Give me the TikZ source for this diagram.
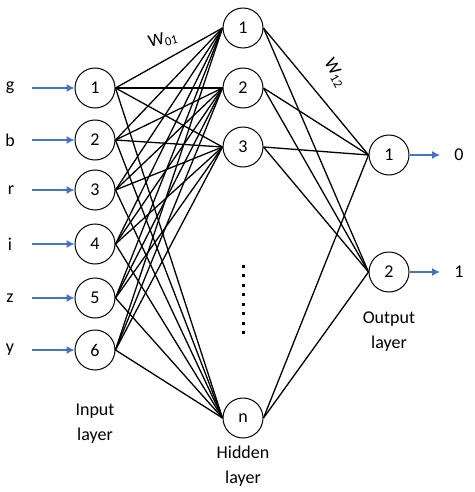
\documentclass[tikz,border=0pt]{standalone}
\usepackage{fontspec}
\setmainfont{Carlito}
\usepackage{xcolor}
\usepackage{tikz}
\usetikzlibrary{arrows.meta}
\definecolor{arrowblue}{HTML}{4472C4}

\begin{document}
\begin{tikzpicture}[x=1pt,y=-1pt,auto,
  font=\fontsize{18}{25}\selectfont,
  main node/.style={circle,draw,line width=1pt,inner sep=1pt,minimum size=40pt},
  in arrow/.style={draw=arrowblue,line width=1.3pt,-{Latex[length=8pt,width=8pt]}},
  wire/.style={line width=1.3pt}]
        \useasboundingbox (0,0) rectangle (474,492);
        % input layer
        \node[main node] (i1) at (95,88)  {1};
        \node[main node] (i2) at (95,140) {2};
        \node[main node] (i3) at (95,190) {3};
        \node[main node] (i4) at (95,244) {4};
        \node[main node] (i5) at (95,298) {5};
        \node[main node] (i6) at (95,350) {6};
        % hidden layer
        \node[main node] (h1) at (243,28)  {1};
        \node[main node] (h2) at (243,88)  {2};
        \node[main node] (h3) at (243,147) {3};
        \node[main node] (h4) at (243,418) {n};
        % output layer
        \node[main node] (o1) at (389,155) {1};
        \node[main node] (o2) at (389,272) {2};
        % inputs
        \node (g) at (10,88)  {g};
        \node (b) at (10,140) {b};
        \node (r) at (11,190) {r};
        \node (i) at (10,244) {i};
        \node (z) at (10,298) {z};
        \node (y) at (10,350) {y};
        \foreach \n in {1,...,6}
          \path (32,0 |- i\n) coordinate (s\n) (s\n) edge[in arrow] (i\n.west);
        % outputs
        \coordinate (e1) at (440,155);
        \coordinate (e2) at (440,272);
        \node (out0) at (459,155) {0};
        \node (out1) at (459,272) {1};
        \path (o1) edge[in arrow] (e1)
              (o2) edge[in arrow] (e2);
        % weights
        \foreach \a in {1,...,6}
          \foreach \b in {1,...,4}
            \draw[wire] (i\a.east) -- (h\b.west);
        \foreach \b in {1,...,4}
          \foreach \c in {1,2}
            \draw[wire] (h\b.east) -- (o\c.west);
        \foreach \k in {0,...,7}
          \fill (241.5,264.5+9.5*\k) rectangle ++(3,3);
        % labels
        \node[rotate=14] (w01) at (163,40) {W\textsubscript{01}};
        \node[rotate=-60] (w12) at (335,73) {W\textsubscript{12}};
        \node[align=center] (inlab) at (95,424) {Input\\layer};
        \node[align=center] (hidlab) at (243,466) {Hidden\\layer};
        \node[align=center] (outlab) at (389,332) {Output\\layer};
      \end{tikzpicture}
\end{document}
